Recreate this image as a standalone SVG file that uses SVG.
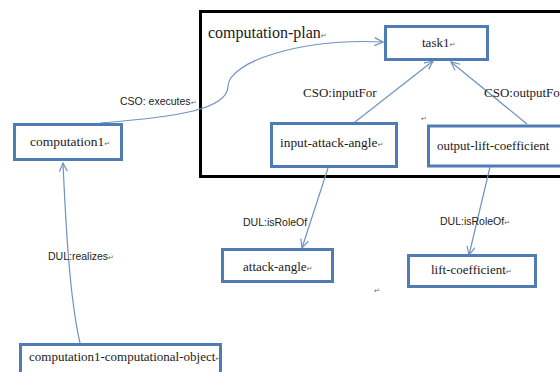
<svg xmlns="http://www.w3.org/2000/svg" width="560" height="372" viewBox="0 0 560 372">
<style>
.box{fill:#fff;stroke:#4f7cb3;stroke-width:3}
.plan{fill:none;stroke:#000;stroke-width:3}
.edge{fill:none;stroke:#6f93c0;stroke-width:1.2}
.nt{font-family:"Liberation Serif","Times New Roman",serif;font-size:13px;fill:#1a1a1a}
.lt{font-family:"Liberation Sans",Arial,sans-serif;font-size:10.5px;fill:#222}
.rm{font-family:"DejaVu Sans",sans-serif;font-size:7px;fill:#666}
</style>
<defs>
<marker id="arr" markerWidth="10" markerHeight="10" refX="9" refY="4.5" orient="auto" markerUnits="userSpaceOnUse">
<path d="M0.5,0.5 L9,4.5 L0.5,8.5" fill="none" stroke="#6f93c0" stroke-width="1.2"/>
</marker>
</defs>
<rect width="560" height="372" fill="#fff"/>
<g id="computation-plan">
<rect class="plan" x="200.5" y="11.5" width="370" height="165"/>
<text class="nt" x="208" y="38" style="font-size:16px">computation-plan<tspan class="rm">↵</tspan></text>
</g>
<g id="connectors">
<path class="edge" d="M100,123 C175,117 228,110 228,86 C229,62 300,38 383,42" marker-end="url(#arr)"/>
<path class="edge" d="M355,122 L433,61" marker-end="url(#arr)"/>
<path class="edge" d="M527,124 L451,62" marker-end="url(#arr)"/>
<path class="edge" d="M328,168 L302,248" marker-end="url(#arr)"/>
<path class="edge" d="M490,167 L469,255" marker-end="url(#arr)"/>
<path class="edge" d="M80,343 C70,300 66,230 63,163" marker-end="url(#arr)"/>
<text class="lt" x="120" y="105">CSO: executes<tspan class="rm">↵</tspan></text>
<text class="nt" x="303" y="97">CSO:inputFor</text>
<text class="nt" x="484" y="97">CSO:outputFor</text>
<text class="lt" x="243" y="226">DUL:isRoleOf</text>
<text class="lt" x="440" y="225">DUL:isRoleOf<tspan class="rm">↵</tspan></text>
<text class="lt" x="48" y="260">DUL:realizes<tspan class="rm">↵</tspan></text>
</g>
<g id="task1">
<rect class="box" x="385.5" y="26.5" width="102" height="33"/>
<text class="nt" x="422" y="47">task1<tspan class="rm">↵</tspan></text>
</g>
<g id="input-attack-angle">
<rect class="box" x="271.5" y="123.5" width="125" height="43"/>
<text class="nt" x="280" y="147" style="font-size:13.4px">input-attack-angle<tspan class="rm">↵</tspan></text>
</g>
<g id="output-lift-coefficient">
<rect class="box" x="428.5" y="126" width="150" height="40"/>
<text class="nt" x="437" y="150">output-lift-coefficient</text>
</g>
<g id="computation1">
<rect class="box" x="14.5" y="124.5" width="107" height="35"/>
<text class="nt" x="30" y="146" style="font-size:13.5px">computation1<tspan class="rm">↵</tspan></text>
</g>
<g id="attack-angle">
<rect class="box" x="222.5" y="249.5" width="110" height="32"/>
<text class="nt" x="243" y="271">attack-angle<tspan class="rm">↵</tspan></text>
</g>
<g id="lift-coefficient">
<rect class="box" x="408.5" y="255.5" width="127" height="31"/>
<text class="nt" x="431" y="274">lift-coefficient<tspan class="rm">↵</tspan></text>
</g>
<g id="computation1-computational-object">
<rect class="box" x="20.5" y="344.5" width="200" height="40"/>
<text class="nt" x="29" y="361">computation1-computational-object<tspan class="rm">↵</tspan></text>
</g>
<text class="rm" x="421" y="121">↵</text>
<text class="rm" x="374" y="293">↵</text>
</svg>
